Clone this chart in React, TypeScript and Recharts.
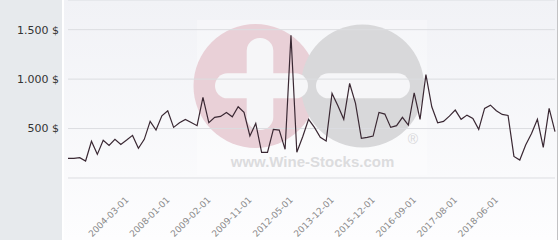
import React from 'react';
import { LineChart, Line, XAxis, YAxis, CartesianGrid } from 'recharts';

// auction prices
const prices = [
  199, 199, 205, 172, 371, 239, 381, 330, 391, 340,
  384, 431, 300, 391, 573, 485, 629, 680, 512, 559,
  593, 562, 529, 815, 559, 613, 623, 663, 619, 720,
  663, 425, 552, 260, 260, 492, 485, 290, 1444, 260,
  417, 593, 512, 411, 374, 855, 730, 593, 956, 754,
  401, 411, 424, 663, 646, 512, 529, 613, 535, 862,
  593, 1045, 720, 559, 573, 626, 687, 593, 636, 603,
  492, 704, 737, 680, 643, 633, 218, 182, 333, 451,
  593, 310, 704, 468,
];

const tickIndex = [10, 17, 24, 31, 38, 45, 52, 59, 66, 73];
const tickLabels = [
  '2004-03-01', '2008-01-01', '2009-02-01', '2009-11-01', '2012-05-01',
  '2013-12-01', '2015-12-01', '2016-09-01', '2017-08-01', '2018-06-01',
];
const yTicks = [0, 500, 1000, 1500];

const data = prices.map((price, i) => ({ i, price }));

const fmtPrice = (v: number) => {
  if (v === 0) return '';
  if (v < 1000) return `${v} $`;
  return `${Math.floor(v / 1000)}.${String(v % 1000).padStart(3, '0')} $`;
};

const fmtDate = (v: number) => tickLabels[tickIndex.indexOf(v)] ?? '';

const Watermark = () => (
  <svg width={560} height={240} style={{ position: 'absolute', left: 0, top: 0 }}>
    <rect x={197} y={20} width={230} height={155} fill="#ffffff" opacity={0.3} />
    <circle cx={255.5} cy={86} r={62} fill="#e9d0d7" />
    <circle cx={362.5} cy={86} r={61.5} fill="#d8d8da" />
    <rect x={246.7} y={38} width={26.6} height={92} rx={13} fill="#f6f6f8" />
    <rect x={215} y={73.3} width={93} height={25} rx={12.5} fill="#f6f6f8" />
    <rect x={316} y={73.3} width={94} height={25} rx={12.5} fill="#f6f6f8" />
    <text x={312.5} y={166.5} textAnchor="middle" fontFamily="Liberation Sans, Arial" fontWeight="bold" fontSize={15} fill="#dcdcde">
      www.Wine-Stocks.com
    </text>
    <text x={413} y={143.5} textAnchor="middle" fontFamily="Liberation Sans, Arial" fontSize={14} fill="#d8d8da">
      ®
    </text>
  </svg>
);

export default function App() {
  return (
    <div style={{ position: 'absolute', left: 0, top: 0, width: 560, height: 240, fontFamily: 'DejaVu Sans', background: '#fff' }}>
      <div style={{ position: 'absolute', left: 0, top: 0, width: 62, height: 240, background: '#e7eaed' }} />
      <div style={{ position: 'absolute', left: 64, top: 0, width: 493, height: 240, background: 'linear-gradient(#f1f2f6, #fdfdfe)' }} />
      <div style={{ position: 'absolute', left: 557, top: 0, width: 1, height: 240, background: '#c2c2c4' }} />
      <Watermark />
      <div style={{ position: 'absolute', left: 0, top: 0 }}>
        <LineChart width={560} height={240} data={data} margin={{ top: 0, right: 5, left: 0, bottom: 0 }}>
          <CartesianGrid vertical={false} stroke="#dcdde1" />
          <XAxis
            type="number"
            dataKey="i"
            domain={[0, prices.length - 1]}
            ticks={tickIndex}
            interval={0}
            tickFormatter={fmtDate}
            angle={-45}
            textAnchor="end"
            height={62}
            axisLine={false}
            tickLine={false}
            tickSize={0}
            tickMargin={18}
            tick={{ fontSize: 9, fill: '#8a8a8a', dx: -2 }}
          />
          <YAxis
            type="number"
            domain={[0, 1800]}
            ticks={yTicks}
            interval={0}
            tickFormatter={fmtPrice}
            width={68}
            axisLine={false}
            tickLine={false}
            tickSize={0}
            tickMargin={9}
            tick={{ fontSize: 11, fill: '#333' }}
          />
          <Line
            type="linear"
            dataKey="price"
            stroke="#3a2833"
            strokeWidth={1.2}
            dot={false}
            isAnimationActive={false}
          />
        </LineChart>
      </div>
    </div>
  );
}
